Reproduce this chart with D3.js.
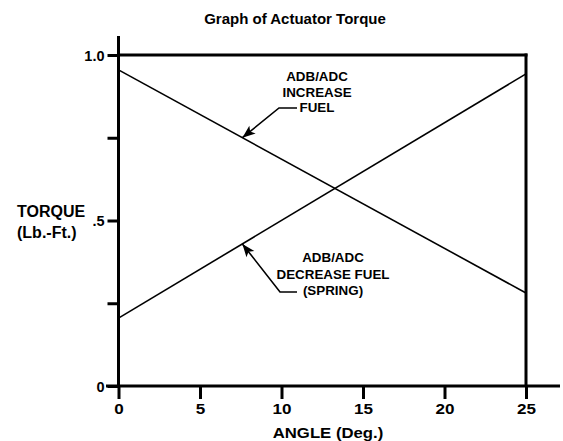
<!DOCTYPE html>
<html><head><meta charset="utf-8">
<script src="https://cdn.jsdelivr.net/npm/d3@7"></script>
<style>
html,body{margin:0;padding:0;background:#fff;}
text{font-family:"Liberation Sans",Arial,Helvetica,sans-serif;font-weight:bold;fill:#000;}
</style></head>
<body><svg id="c" width="563" height="441"></svg>
<script>
// ---- data ----
const angles = [0, 25];
const increaseFuel = [0.955, 0.281];   // ADB/ADC INCREASE FUEL (falling line)
const decreaseFuel = [0.205, 0.943];   // ADB/ADC DECREASE FUEL (SPRING) (rising line)
const xTicks = [0, 5, 10, 15, 20, 25];
const yTicks = [0, 0.25, 0.5, 0.75, 1.0];
const yTickLabels = {0: "0", 0.5: ".5", 1: "1.0"};
const title = "Graph of Actuator Torque";
const xTitle = "ANGLE (Deg.)";
const yTitle = ["TORQUE", "(Lb.-Ft.)"];
const labelIncrease = ["ADB/ADC", "INCREASE", "FUEL"];
const labelDecrease = ["ADB/ADC", "DECREASE FUEL", "(SPRING)"];
const arrowAt = 7.6;

const svg = d3.select("#c");
const m = {l: 118.5, r: 526, t: 55, b: 386};
const x = d3.scaleLinear().domain([0, 25]).range([m.l, m.r]);
const y = d3.scaleLinear().domain([0, 1]).range([m.b, m.t]);

function txt(px, py, s, size, sx, anchor) {
  svg.append("text").attr("transform", `translate(${px},${py}) scale(${sx},1)`)
    .attr("text-anchor", anchor || "start").style("font-size", size + "px").text(s);
}

// title
txt(295, 24, title, 15, 1.0, "middle");

// frame lines
const g = svg.append("g").attr("stroke", "#000").attr("stroke-width", 3).attr("fill", "none");
g.append("line").attr("x1", m.l).attr("x2", m.l).attr("y1", 36).attr("y2", m.b + 1.5);
g.append("line").attr("x1", 106).attr("x2", 560).attr("y1", m.b).attr("y2", m.b);
g.append("line").attr("x1", m.l).attr("x2", m.r + 1.5).attr("y1", m.t).attr("y2", m.t);
g.append("line").attr("x1", m.r).attr("x2", m.r).attr("y1", m.t - 1.5).attr("y2", m.b);

// axes
const xa = svg.append("g").attr("transform", `translate(0,${m.b})`)
  .call(d3.axisBottom(x).tickValues(xTicks).tickSize(13).tickSizeOuter(0).tickPadding(4));
const ya = svg.append("g").attr("transform", `translate(${m.l},0)`)
  .call(d3.axisLeft(y).tickValues(yTicks).tickSize(11).tickSizeOuter(0).tickPadding(3)
    .tickFormat(d => yTickLabels[d] || ""));
[xa, ya].forEach(a => {
  a.select(".domain").remove();
  a.selectAll(".tick line").attr("stroke", "#000").attr("stroke-width", 3);
  a.selectAll(".tick text").style("font-family", null).attr("fill", "#000");
});
xa.selectAll(".tick text").style("font-size", "15.5px").attr("transform", "scale(1.1,1)");
ya.selectAll(".tick text").style("font-size", "14.5px").attr("dy", "0.36em");

// axis titles
txt(328, 438, xTitle, 15.5, 1.08, "middle");
txt(17, 217, yTitle[0], 16, 1.0, "start");
txt(17, 238, yTitle[1], 16, 1.0, "start");

// series
const line = d3.line().x((d, i) => x(angles[i])).y(d => y(d));
[increaseFuel, decreaseFuel].forEach(s => {
  svg.append("path").attr("d", line(s)).attr("fill", "none").attr("stroke", "#000").attr("stroke-width", 1.6);
});

// annotations
function interp(s, a) { return s[0] + (s[1] - s[0]) * (a - angles[0]) / (angles[1] - angles[0]); }
function annotate(series, lines, cx, baseY, elbow, lineH) {
  lines.forEach((t, i) => txt(cx, baseY + i * lineH, t, 13, 1.03, "middle"));
  const tx = x(arrowAt), ty = y(interp(series, arrowAt));
  svg.append("path").attr("d", `M${elbow[1]},${elbow[2]}H${elbow[0]}L${tx},${ty}`)
    .attr("fill", "none").attr("stroke", "#000").attr("stroke-width", 1.6);
  const ang = Math.atan2(ty - elbow[2], tx - elbow[0]);
  const L = 13, W = 5;
  const bx = tx - L * Math.cos(ang), by = ty - L * Math.sin(ang);
  const px = -Math.sin(ang) * W, py = Math.cos(ang) * W;
  svg.append("path").attr("d", `M${tx},${ty}L${bx + px},${by + py}L${bx + 3*Math.cos(ang)},${by + 3*Math.sin(ang)}L${bx - px},${by - py}Z`)
    .attr("fill", "#000");
}
annotate(increaseFuel, labelIncrease, 317, 81, [279, 297, 108], 15.5);
annotate(decreaseFuel, labelDecrease, 333, 262, [280, 297, 292], 16.5);
</script></body></html>
